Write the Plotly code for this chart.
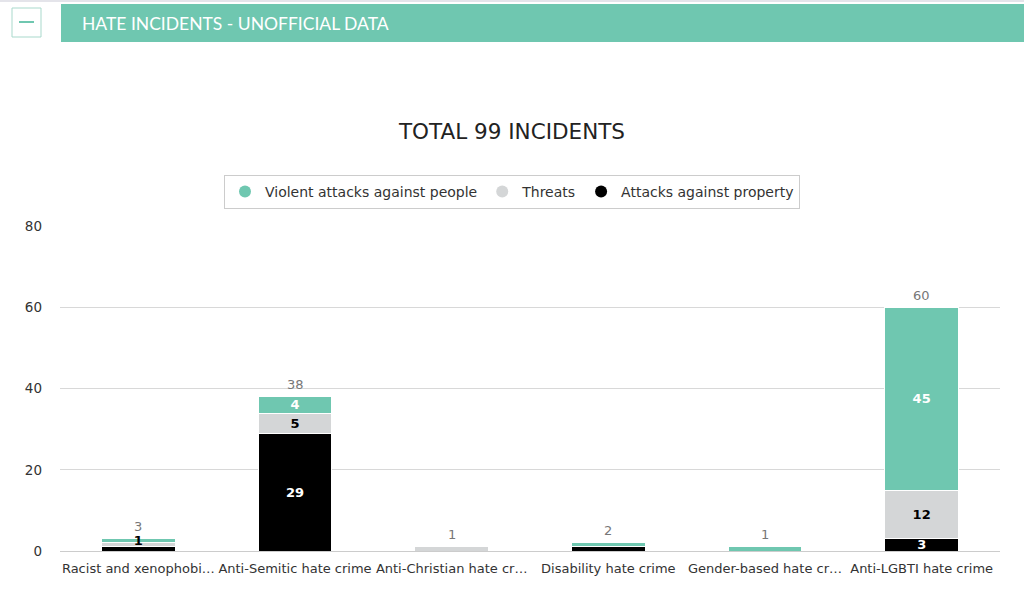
import plotly.graph_objects as go

categories = ["Racist and xenophobi…", "Anti-Semitic hate crime", "Anti-Christian hate cr…",
              "Disability hate crime", "Gender-based hate cr…", "Anti-LGBTI hate crime"]
violent = [1, 4, 0, 1, 1, 45]
threats = [1, 5, 1, 0, 0, 12]
property_ = [1, 29, 0, 1, 0, 3]
violent_labels = ["1", "4", "", "", "", "45"]
threats_labels = ["", "5", "", "", "", "12"]
property_labels = ["", "29", "", "", "", "3"]
y_ticks = [0, 20, 40, 60, 80]

TEAL = "#6fc7b0"
GREY = "#d4d6d7"
BLACK = "#000000"
FONT = "DejaVu Sans"

W, H = 1024, 593
L, R, T, B = 60, 24, 226, 42
PW, PH = W - L - R, H - T - B


def px(x):
    return (x - L) / PW


def py(y):
    return (H - B - y) / PH


totals = [a + b + c for a, b, c in zip(violent, threats, property_)]

fig = go.Figure()
series = [
    ("Attacks against property", property_, property_labels, BLACK, ["white"] * 6),
    ("Threats", threats, threats_labels, GREY, ["black"] * 6),
    ("Violent attacks against people", violent, violent_labels, TEAL,
     ["black"] + ["white"] * 5),
]
for name, vals, labels, color, tcolor in series:
    fig.add_trace(go.Bar(
        x=categories, y=vals, name=name, text=labels,
        textposition="inside", insidetextanchor="middle", constraintext="none",
        textangle=0,
        textfont=dict(family=FONT, size=13, color=tcolor, weight="bold"),
        marker=dict(color=color, line=dict(color="white", width=1)),
        width=0.47, showlegend=False, hoverinfo="skip",
    ))

# legend entries with circle markers
for name, color in [("Violent attacks against people", TEAL), ("Threats", GREY),
                    ("Attacks against property", BLACK)]:
    fig.add_trace(go.Scatter(x=[None], y=[None], mode="markers", name=name,
                             marker=dict(color=color, size=13, symbol="circle")))

for c, t in zip(categories, totals):
    fig.add_annotation(x=c, y=t, text=str(t), showarrow=False, yanchor="bottom", yshift=3,
                       font=dict(family=FONT, size=13, color="#777777"))

# page chrome: top rule, header bar, collapse button
fig.add_shape(type="rect", xref="paper", yref="paper",
              x0=px(0), x1=px(W), y0=py(2), y1=py(0),
              fillcolor="#e4e4ea", line=dict(width=0), layer="below")
fig.add_shape(type="rect", xref="paper", yref="paper",
              x0=px(61), x1=px(W), y0=py(42), y1=py(4),
              fillcolor=TEAL, line=dict(width=0), layer="below")
fig.add_shape(type="rect", xref="paper", yref="paper",
              x0=px(12), x1=px(41), y0=py(37), y1=py(8),
              fillcolor="white", line=dict(color="#a9d9cc", width=1))
fig.add_shape(type="line", xref="paper", yref="paper",
              x0=px(19), x1=px(34), y0=py(22), y1=py(22),
              line=dict(color=TEAL, width=2))
fig.add_annotation(xref="paper", yref="paper", x=px(80), y=py(23),
                   xanchor="left", yanchor="middle", showarrow=False,
                   text="HATE INCIDENTS - UNOFFICIAL DATA",
                   font=dict(family="Lato", size=17.5, color="white"))

fig.update_layout(
    width=W, height=H,
    barmode="stack",
    bargap=0.53,
    paper_bgcolor="white", plot_bgcolor="white",
    margin=dict(l=L, r=R, t=T, b=B, autoexpand=False),
    title=dict(text="TOTAL 99 INCIDENTS", x=512 / W, xanchor="center",
               y=1 - 131 / H, yanchor="middle", yref="container",
               font=dict(family=FONT, size=21.5, color="#222222")),
    legend=dict(orientation="h", x=px(512), xanchor="center",
                y=py(192), yanchor="middle", traceorder="normal",
                bordercolor="#cccccc", borderwidth=1,
                font=dict(family=FONT, size=14, color="#333333"),
                itemsizing="constant"),
    xaxis=dict(showgrid=False, showline=True, linecolor="#cccccc", linewidth=1,
               ticklabelstandoff=5, automargin=False,
               tickfont=dict(family=FONT, size=13, color="#333333"), ticks=""),
    yaxis=dict(range=[0, 80.1], tickvals=y_ticks, gridcolor="#d8d8d8", gridwidth=1,
               zeroline=False, ticks="", ticklabelstandoff=17, automargin=False,
               tickfont=dict(family=FONT, size=13.5, color="#333333")),
)

fig.write_html("out.html",
               config={"displayModeBar": False},
               post_script="document.body.style.margin='0';document.body.style.overflow='hidden';")
